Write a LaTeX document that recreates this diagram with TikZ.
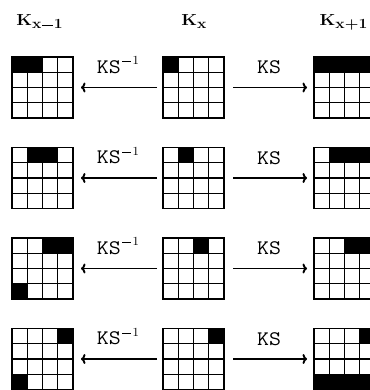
\documentclass[tikz,border=0pt]{standalone}
\usepackage{fontspec}
\usepackage{graphicx}
\usetikzlibrary{arrows.meta}
\newcommand{\hminus}{\hspace{0.8pt}\rule[3.3pt]{9.5pt}{1.15pt}\hspace{0.8pt}}
\newcommand{\khead}[1]{\scalebox{1.12}[1]{{\fontsize{16}{16}\selectfont\bfseries K}\raisebox{-3.3pt}{\fontsize{14}{14}\selectfont\bfseries #1}}}
\newcommand{\kstext}{\scalebox{1.12}[1]{\fontsize{20.7}{21}\selectfont\ttfamily KS}}
\newcommand{\ksinv}{\scalebox{1.12}[1]{{\fontsize{20.7}{21}\selectfont\ttfamily KS}\hspace{1.5pt}\raisebox{8.6pt}{\fontsize{12.4}{12}\selectfont\rmfamily\rule[3.1pt]{7.6pt}{0.5pt}\hspace{1.3pt}1}}}
\tikzset{
  kgridbox/.style={draw=none, minimum size=61pt, inner sep=0pt, outer sep=0pt},
  kgridline/.style={line width=1.3pt, black, line cap=rect},
  karrow/.style={line width=1.9pt, -{To[length=4.5pt,width=10pt]}},
  klabel/.style={inner sep=0pt},
  khdr/.style={anchor=base west, inner sep=0pt}
}
\newcommand{\kgrid}[4]{%
  \node[kgridbox] (#1) at (#2+30.5, #3+30.5) {};
  \foreach \c/\r in {#4} {\fill[black] (#2+\c*15.25, #3+\r*15.25) rectangle ++(15.25,15.25);}
  \foreach \i in {0,1,2,3,4} {
    \draw[kgridline] (#2+\i*15.25, #3) -- (#2+\i*15.25, #3+61);
    \draw[kgridline] (#2, #3+\i*15.25) -- (#2+61, #3+\i*15.25);
  }
}
\begin{document}
\begin{tikzpicture}[x=1pt, y=-1pt]
\path[use as bounding box] (0,0) rectangle (369,390);
\node[khdr] (hl) at (16.2,25.7) {\khead{x\hminus 1}};
\node[khdr] (hm) at (181.2,25.7) {\khead{x}};
\node[khdr] (hr) at (319.5,25.7) {\khead{x+1}};
% row 1
\kgrid{l1}{12}{57}{0/0,1/0}
\kgrid{m1}{163}{57}{0/0}
\kgrid{r1}{314}{57}{0/0,1/0,2/0,3/0}
% row 2
\kgrid{l2}{12}{147.5}{1/0,2/0}
\kgrid{m2}{163}{147.5}{1/0}
\kgrid{r2}{314}{147.5}{1/0,2/0,3/0}
% row 3
\kgrid{l3}{12}{238}{2/0,3/0,0/3}
\kgrid{m3}{163}{238}{2/0}
\kgrid{r3}{314}{238}{2/0,3/0}
% row 4
\kgrid{l4}{12}{328.5}{3/0,0/3}
\kgrid{m4}{163}{328.5}{3/0}
\kgrid{r4}{314}{328.5}{3/0,0/3,1/3,2/3,3/3}
\foreach \k in {1,2,3,4} {
  \draw[karrow, shorten <=6pt, shorten >=8pt] (m\k) -- (l\k)
    node[midway, above=13pt, klabel] {\ksinv};
  \draw[karrow, shorten <=9pt, shorten >=7pt] (m\k) -- (r\k)
    node[midway, above=12.5pt, klabel] {\kstext};
}
\end{tikzpicture}
\end{document}
